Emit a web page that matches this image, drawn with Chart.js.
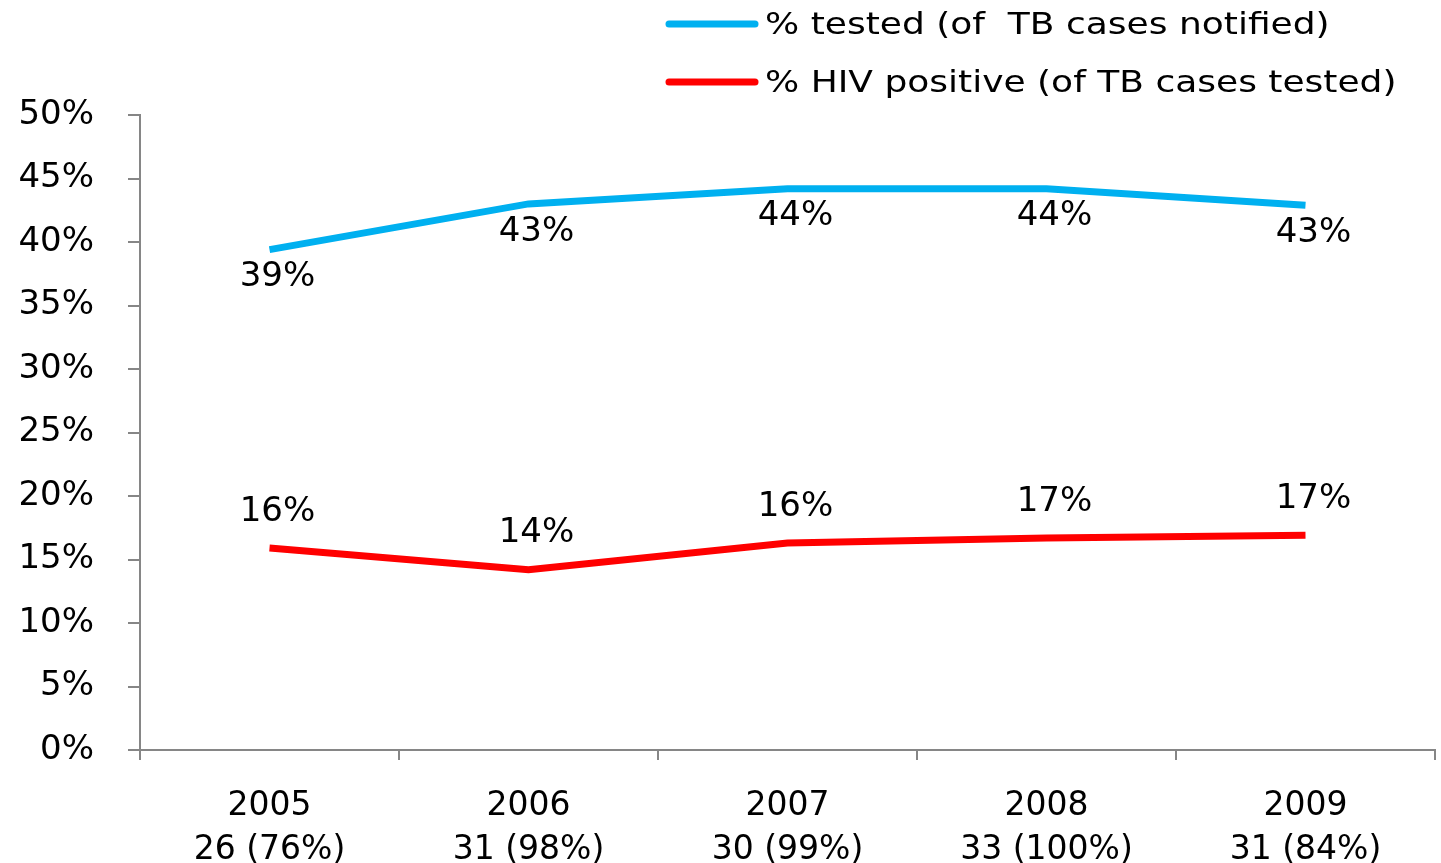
<!DOCTYPE html>
<html>
<head>
<meta charset="utf-8">
<script src="https://cdn.jsdelivr.net/npm/chart.js@4"></script>
<style>
  html, body { margin: 0; padding: 0; background: #fff; }
  #wrap { width: 1441px; height: 863px; }
</style>
</head>
<body>
<div id="wrap"><canvas id="chart"></canvas></div>
<script>
'use strict';

// data
const years = ['2005', '2006', '2007', '2008', '2009'];
const caseCounts = ['26 (76%)', '31 (98%)', '30 (99%)', '33 (100%)', '31 (84%)'];
const pctTested = [39.4, 43.0, 44.2, 44.2, 42.9];
const pctHivPositive = [15.9, 14.2, 16.3, 16.7, 16.9];
const seriesNames = ['% tested (of  TB cases notified)', '% HIV positive (of TB cases tested)'];

const FONT = 'DejaVu Sans';
const axisGray = '#868686';

// value labels: blue below the line, red above
const valueLabels = {
  id: 'valueLabels',
  afterDatasetsDraw(chart) {
    const ctx = chart.ctx;
    ctx.save();
    ctx.font = '34px "' + FONT + '"';
    ctx.fillStyle = '#000';
    ctx.textAlign = 'center';
    ctx.textBaseline = 'middle';
    chart.data.datasets.forEach((ds, i) => {
      let meta = chart.getDatasetMeta(i);
      meta.data.forEach((pt, j) => {
        let dy = ds.labelBelow ? 28 : -36;
        ctx.fillText(Math.round(ds.data[j]) + '%', pt.x + 8, pt.y + dy);
      });
    });
    ctx.restore();
  }
};

// legend stacked in the top right corner (text a bit stretched like the original)
const sideLegend = {
  id: 'sideLegend',
  afterDraw(chart) {
    const ctx = chart.ctx;
    chart.data.datasets.forEach((ds, i) => {
      let y = 24 + i * 58;
      ctx.save();
      ctx.strokeStyle = ds.borderColor;
      ctx.lineWidth = 7;
      ctx.lineCap = 'round';
      ctx.beginPath();
      ctx.moveTo(669, y);
      ctx.lineTo(755, y);
      ctx.stroke();
      ctx.font = '30px "' + FONT + '"';
      ctx.textBaseline = 'middle';
      ctx.textAlign = 'left';
      ctx.fillStyle = '#000';
      ctx.translate(765, y + 2);
      ctx.scale(1.2, 1);
      ctx.fillText(ds.label, 0, 0);
      ctx.restore();
    });
  }
};

function renderChart() {
  let data = {
    labels: years.map((y, i) => [y, caseCounts[i]]),
    datasets: [
      {
        label: seriesNames[0],
        data: pctTested,
        borderColor: '#00B0F0',
        backgroundColor: '#00B0F0',
        borderWidth: 7,
        pointRadius: 0,
        tension: 0,
        labelBelow: true
      },
      {
        label: seriesNames[1],
        data: pctHivPositive,
        borderColor: '#FF0000',
        backgroundColor: '#FF0000',
        borderWidth: 7,
        pointRadius: 0,
        tension: 0,
        labelBelow: false
      }
    ]
  };

  let options = {
    responsive: true,
    maintainAspectRatio: false,
    animation: false,
    layout: { padding: { top: 115, right: 6, left: 0, bottom: 0 } },
    plugins: {
      legend: { display: false },
      tooltip: { enabled: false }
    },
    scales: {
      x: {
        offset: true,
        grid: {
          offset: true,
          drawOnChartArea: false,
          color: axisGray,
          lineWidth: 2,
          tickLength: 10
        },
        border: { color: axisGray, width: 2 },
        ticks: {
          color: '#000',
          font: { family: FONT, size: 33, lineHeight: 1.32 },
          padding: 25,
          maxRotation: 0
        },
        afterFit(scale) { scale.height = 113; }
      },
      y: {
        min: 0,
        max: 50,
        grid: {
          drawOnChartArea: false,
          color: axisGray,
          lineWidth: 2,
          tickLength: 12
        },
        border: { color: axisGray, width: 2 },
        ticks: {
          stepSize: 5,
          color: '#000',
          font: { family: FONT, size: 34 },
          padding: 34,
          callback: v => v + '%'
        },
        afterFit(scale) { scale.width = 140; }
      }
    }
  };

  let ctx = document.getElementById('chart').getContext('2d');
  new Chart(ctx, {
    type: 'line',
    data: data,
    options: options,
    plugins: [valueLabels, sideLegend]
  });
}

renderChart();
</script>
</body>
</html>
